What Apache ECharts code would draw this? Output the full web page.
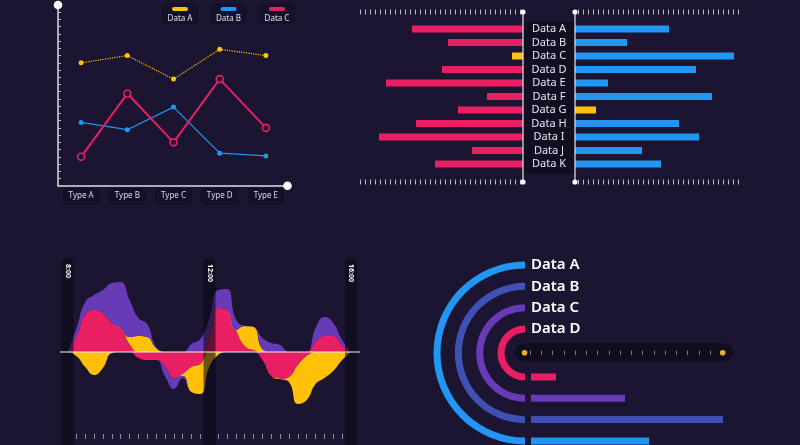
<!DOCTYPE html>
<html>
<head>
<meta charset="utf-8">
<script src="https://cdn.jsdelivr.net/npm/echarts@6/dist/echarts.min.js"></script>
<style>
  html, body { margin: 0; padding: 0; background: #1b1531; }
  #chart { width: 800px; height: 445px; }
</style>
</head>
<body>
<div id="chart"></div>
<script>
// top left: line chart
const types = ['Type A', 'Type B', 'Type C', 'Type D', 'Type E']
const lineNames = ['Data A', 'Data B', 'Data C']
const lineA = [68, 72, 59, 75.5, 72]
const lineB = [35, 31, 43.5, 18, 16.5]
const lineC = [16, 51, 24, 59, 32]

// top right: butterfly bars
const barCats = ['Data A', 'Data B', 'Data C', 'Data D', 'Data E', 'Data F', 'Data G', 'Data H', 'Data I', 'Data J', 'Data K']
const leftVals = [111, 75, 11, 81, 137, 36, 65, 107, 144, 51, 88]
const rightVals = [94, 52, 159, 121, 33, 137, 21, 104, 124, 67, 86]
const leftAccent = 2   // Data C
const rightAccent = 6  // Data G

// bottom left: signed stacked flows, every 15 min
const times = ['8:00', '8:15', '8:30', '8:45', '9:00', '9:15', '9:30', '9:45', '10:00', '10:15', '10:30', '10:45',
  '11:00', '11:15', '11:30', '11:45', '12:00', '12:15', '12:30', '12:45', '13:00', '13:15', '13:30', '13:45',
  '14:00', '14:15', '14:30', '14:45', '15:00', '15:15', '15:30', '15:45', '16:00']
const pinkFlow   = [0, 15, 38, 42, 39, 29, 24, 8, -6, -8, -8, -15, -26, -22, -15, -12, 15, 44, 42, 22, 6, 2, -8, -24, -27, -25, -13, -4, 10, 16, 16, 7, 0]
const yellowFlow = [0, -4, -15, -23, -16, -1, 0, 7, 16, 15, 4, 0, 0, -2, -25, -30, -15, -3, 0, 0, 20, 23, 3, 0, 0, -5, -39, -44, -32, -26, -19, -8, 0]
const purpleFlow = [0, 8, 12, 15, 23, 40, 46, 37, 18, 13, 1, -9, -11, -2, 8, 13, 18, 18, 21, 11, 0, 0, 11, 9, 7, 0, 0, 0, 14, 19, 13, 5, 0]
const timeMarks = ['8:00', '12:00', '16:00']

// bottom right: half rings + bars
const ringCats = ['Data A', 'Data B', 'Data C', 'Data D']
const ringArc = [180, 180, 180, 180]
const ringVals = [118, 192, 94, 25]

const BG = '#1b1531'
const PINK = '#e91e63', BLUE = '#2196f3', YELLOW = '#ffc107', PURPLE = '#673ab7', INDIGO = '#3f51b5'
const lineColors = [YELLOW, BLUE, PINK]
const ringColors = [BLUE, INDIGO, PURPLE, PINK]
const FONT = '"Noto Sans", sans-serif'

const chart = echarts.init(document.getElementById('chart'), null, { renderer: 'canvas' })

const hidden = { show: false }
function tickGrid(left, top, width, height) {
  return { left, top, width, height, outerBoundsMode: 'none' }
}
function tickAxis(gridIndex, max, color) {
  return {
    type: 'value', gridIndex, min: 0, max, interval: 1,
    axisLine: hidden, axisTick: hidden, axisLabel: hidden,
    splitLine: { show: true, lineStyle: { color, width: 1 } },
  }
}

// graphic decorations
const graphics = []
lineNames.forEach((name, i) => {
  const x = 162 + i * 48.5
  graphics.push(
    { type: 'rect', z: -10, shape: { x, y: 3, width: 36, height: 21, r: 3 }, style: { fill: '#15112a' } },
    { type: 'rect', z: 5, shape: { x: x + 10, y: 7, width: 16, height: 4, r: 2 }, style: { fill: lineColors[i] } },
    { type: 'text', z: 5, style: { text: name, x: x + 18, y: 18.5, align: 'center', verticalAlign: 'middle', textAlign: 'center', textVerticalAlign: 'middle', fill: '#e2e0ea', font: '8px ' + FONT } },
  )
})
graphics.push(
  { type: 'circle', z: 5, shape: { cx: 58, cy: 5, r: 4.3 }, style: { fill: '#fff' } },
  { type: 'circle', z: 5, shape: { cx: 287.5, cy: 185.7, r: 4.3 }, style: { fill: '#fff' } },
)
// butterfly centre column
graphics.push({ type: 'rect', z: -10, shape: { x: 523, y: 21.5, width: 52, height: 152.5 }, style: { fill: '#120e22' } })
;[523, 575].forEach(x => {
  graphics.push(
    { type: 'line', z: 5, shape: { x1: x, y1: 12, x2: x, y2: 182 }, style: { stroke: '#e8e6ef', lineWidth: 1.2 } },
    { type: 'circle', z: 5, shape: { cx: x, cy: 12, r: 2.6 }, style: { fill: '#fff' } },
    { type: 'circle', z: 5, shape: { cx: x, cy: 182, r: 2.6 }, style: { fill: '#fff' } },
  )
})
// flow pills + time labels
;[67.5, 209.5, 351].forEach((cx, i) => {
  graphics.push(
    { type: 'rect', z: 50, shape: { x: cx - 6, y: 258, width: 12, height: 200, r: 6 }, style: { fill: 'rgba(12,9,24,0.6)' } },
    { type: 'text', z: 55, x: cx, y: 264, rotation: -Math.PI / 2,
      style: { text: timeMarks[i], x: 0, y: 0, align: 'left', verticalAlign: 'middle', textAlign: 'left', textVerticalAlign: 'middle', fill: '#fff', font: 'bold 7px ' + FONT } },
  )
})
graphics.push({ type: 'line', z: 60, shape: { x1: 60, y1: 352, x2: 360, y2: 352 }, style: { stroke: '#f0eef5', lineWidth: 1.2 } })
// slider bar
graphics.push(
  { type: 'rect', z: -10, shape: { x: 515, y: 343.3, width: 218, height: 18.4, r: 9.2 }, style: { fill: '#110d1f' } },
  { type: 'circle', z: 10, shape: { cx: 524.5, cy: 352.7, r: 2.8 }, style: { fill: '#e9b32a' } },
  { type: 'circle', z: 10, shape: { cx: 722.7, cy: 352.7, r: 2.8 }, style: { fill: '#e9b32a' } },
)
// ring labels (at the top end of each ring)
const ringR = [88, 66.7, 45.3, 24]
ringCats.forEach((name, i) => {
  graphics.push({ type: 'text', z: 10, style: { text: name, x: 531, y: 353 - ringR[i], align: 'left', verticalAlign: 'middle', textAlign: 'left', textVerticalAlign: 'middle', fill: '#fff', font: '600 15px ' + FONT } })
})

function flowSeries(values, color, sign) {
  return {
    type: 'line', xAxisIndex: 7, yAxisIndex: 7,
    stack: sign > 0 ? 'up' : 'down', stackStrategy: 'all',
    smooth: 0.5, symbol: 'none',
    lineStyle: { width: 0 },
    areaStyle: { color, opacity: 1 },
    data: values.map(v => sign > 0 ? Math.max(v, 0) : Math.min(v, 0)),
  }
}

chart.setOption({
  backgroundColor: BG,
  animation: false,
  textStyle: { fontFamily: FONT },
  graphic: { elements: graphics },
  grid: [
    { left: 58, top: 5, width: 231, height: 180.7, outerBoundsMode: 'none' },
    { left: 360, top: 22.25, width: 163, height: 148.5, outerBoundsMode: 'none' },
    { left: 575, top: 22.25, width: 165, height: 148.5, outerBoundsMode: 'none' },
    tickGrid(360, 9.5, 160, 5),
    tickGrid(578, 9.5, 160, 5),
    tickGrid(360, 179.5, 160, 5),
    tickGrid(578, 179.5, 160, 5),
    { left: 67.5, top: 270, width: 283.5, height: 169, outerBoundsMode: 'none' },
    tickGrid(530, 350.5, 180, 4.5),
    { left: 531, top: 366.35, width: 200, height: 85.2, outerBoundsMode: 'none' },
  ],
  xAxis: [
    {
      type: 'category', gridIndex: 0, data: types,
      axisLine: { lineStyle: { color: '#dedce6', width: 1.5 } },
      axisTick: { inside: true, alignWithLabel: true, length: 3, lineStyle: { color: '#dedce6' } },
      axisLabel: { color: '#dcdae4', fontSize: 8, backgroundColor: '#14102a', borderRadius: 4, padding: [4, 6], lineHeight: 9, margin: 2 },
    },
    { type: 'value', gridIndex: 1, inverse: true, min: 0, max: 163, show: false },
    { type: 'value', gridIndex: 2, min: 0, max: 165, show: false },
    tickAxis(3, 32, '#bdb9c9'),
    tickAxis(4, 32, '#bdb9c9'),
    tickAxis(5, 32, '#bdb9c9'),
    tickAxis(6, 32, '#bdb9c9'),
    {
      type: 'category', gridIndex: 7, data: times, boundaryGap: false,
      axisLine: { show: false, onZero: false }, axisLabel: hidden,
      axisTick: { show: true, inside: true, length: 5, interval: (i) => i % 16 !== 0, lineStyle: { color: '#8c88a0' } },
    },
    tickAxis(8, 16, '#77738a'),
    { type: 'value', gridIndex: 9, min: 0, max: 200, show: false },
  ],
  yAxis: [
    {
      type: 'value', gridIndex: 0, min: 0, max: 100, interval: 4,
      axisLine: { show: true, lineStyle: { color: '#dedce6', width: 1.5 } },
      axisTick: { show: true, inside: true, length: 3, lineStyle: { color: '#bdb9c9' } },
      axisLabel: hidden, splitLine: hidden,
    },
    { type: 'category', gridIndex: 1, data: barCats, inverse: true, show: false },
    {
      type: 'category', gridIndex: 2, data: barCats, inverse: true,
      axisLine: hidden, axisTick: hidden,
      axisLabel: { color: '#e6e4ee', fontSize: 11, align: 'center', margin: 26, interval: 0 },
    },
    { type: 'value', gridIndex: 3, show: false },
    { type: 'value', gridIndex: 4, show: false },
    { type: 'value', gridIndex: 5, show: false },
    { type: 'value', gridIndex: 6, show: false },
    { type: 'value', gridIndex: 7, min: -87, max: 82, show: false, splitLine: hidden },
    { type: 'value', gridIndex: 8, show: false },
    { type: 'category', gridIndex: 9, data: ringCats, show: false },
  ],
  polar: { center: [525, 353], radius: [13.3, 98.7] },
  angleAxis: { type: 'value', min: 0, max: 360, startAngle: 90, clockwise: false, show: false },
  radiusAxis: { type: 'category', data: ringCats, inverse: true, show: false },
  series: [
    {
      name: lineNames[0], type: 'line', xAxisIndex: 0, yAxisIndex: 0, data: lineA,
      symbol: 'circle', symbolSize: 5,
      lineStyle: { color: YELLOW, width: 1.2, type: 'dotted' }, itemStyle: { color: YELLOW },
    },
    {
      name: lineNames[1], type: 'line', xAxisIndex: 0, yAxisIndex: 0, data: lineB,
      symbol: 'circle', symbolSize: 5,
      lineStyle: { color: BLUE, width: 1.2 }, itemStyle: { color: BLUE },
    },
    {
      name: lineNames[2], type: 'line', xAxisIndex: 0, yAxisIndex: 0, data: lineC,
      symbol: 'circle', symbolSize: 7,
      lineStyle: { color: PINK, width: 2 }, itemStyle: { color: BG, borderColor: PINK, borderWidth: 1.6 },
    },
    {
      type: 'bar', xAxisIndex: 1, yAxisIndex: 1, barWidth: 7,
      data: leftVals.map((v, i) => ({ value: v, itemStyle: { color: i === leftAccent ? YELLOW : PINK } })),
    },
    {
      type: 'bar', xAxisIndex: 2, yAxisIndex: 2, barWidth: 7,
      data: rightVals.map((v, i) => ({ value: v, itemStyle: { color: i === rightAccent ? YELLOW : BLUE } })),
    },
    flowSeries(pinkFlow, PINK, 1),
    flowSeries(yellowFlow, YELLOW, 1),
    flowSeries(purpleFlow, PURPLE, 1),
    flowSeries(pinkFlow, PINK, -1),
    flowSeries(yellowFlow, YELLOW, -1),
    flowSeries(purpleFlow, PURPLE, -1),
    {
      type: 'bar', coordinateSystem: 'polar', barWidth: 7,
      data: ringArc.map((v, i) => ({ value: v, itemStyle: { color: ringColors[i] } })),
    },
    {
      type: 'bar', xAxisIndex: 9, yAxisIndex: 9, barWidth: 7,
      data: ringVals.map((v, i) => ({ value: v, itemStyle: { color: ringColors[i] } })),
    },
  ],
})
</script>
</body>
</html>
